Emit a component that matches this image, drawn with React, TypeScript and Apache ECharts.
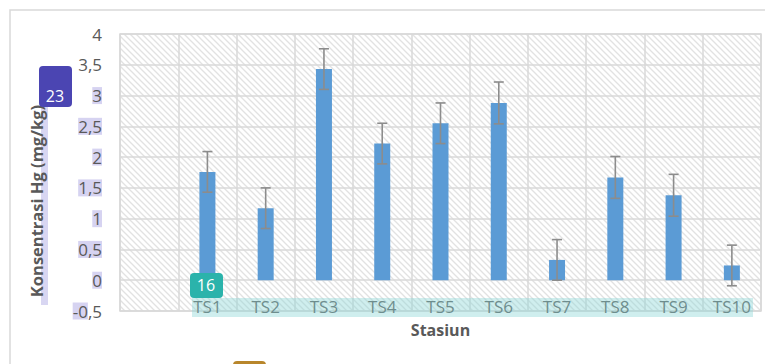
import React, { useEffect, useRef } from "react";
import * as echarts from "echarts";

const categories = ["", "TS1", "TS2", "TS3", "TS4", "TS5", "TS6", "TS7", "TS8", "TS9", "TS10"];
const hgValues: (number | string)[] = ["-", 1.76, 1.17, 3.43, 2.22, 2.55, 2.88, 0.33, 1.67, 1.38, 0.24];
const hgErrors: number[] = [0, 0.33, 0.33, 0.33, 0.33, 0.33, 0.34, 0.33, 0.34, 0.34, 0.33];
const yTickLabels = ["-0,5", "0", "0,5", "1", "1,5", "2", "2,5", "3", "3,5", "4"];
const yTitle = "Konsentrasi Hg (mg/kg)";
const xTitle = "Stasiun";

const FONT = "'Open Sans', 'Noto Sans', sans-serif";
const TXT = "#595959";

const hatchSvg =
  "<svg xmlns='http://www.w3.org/2000/svg' width='6' height='6'>" +
  "<rect width='6' height='6' fill='#ffffff'/>" +
  "<path d='M0,0 L6,6 M-1,5 L1,7 M5,-1 L7,1' stroke='#e2e2e2' stroke-width='1.3'/></svg>";
const hatchUrl = "data:image/svg+xml;charset=utf-8," + encodeURIComponent(hatchSvg);

export default function App() {
  const ref = useRef<HTMLDivElement>(null);
  useEffect(() => {
    if (!ref.current) return;
    const chart = echarts.init(ref.current, null, { renderer: "svg" });
    const errData = categories
      .map((c, i) => [i, hgValues[i], hgErrors[i]])
      .filter((d) => typeof d[1] === "number");
    chart.setOption({
      animation: false,
      backgroundColor: "#ffffff",
      grid: {
        left: 112,
        right: 12,
        top: 26,
        bottom: 53,
        show: true,
        borderColor: "#d9d9d9",
        borderWidth: 1.5,
        backgroundColor: {
          image: hatchUrl,
          repeat: "repeat",
          imageWidth: 6,
          imageHeight: 6,
        } as any,
      },
      xAxis: {
        type: "category",
        data: categories,
        boundaryGap: true,
        axisLine: { show: false },
        axisTick: { show: false },
        splitLine: { show: true, lineStyle: { color: "#d9d9d9", width: 1.5 } },
        axisLabel: { color: TXT, fontFamily: FONT, fontSize: 17, margin: -13, interval: 0 },
        name: xTitle,
        nameLocation: "middle",
        nameGap: 11,
        nameTextStyle: { color: TXT, fontFamily: FONT, fontSize: 16, fontWeight: "bold", verticalAlign: "top" },
      },
      yAxis: {
        type: "value",
        min: -0.5,
        max: 4,
        interval: 0.5,
        axisLine: { show: false },
        axisTick: { show: false },
        splitLine: { show: true, lineStyle: { color: "#d9d9d9", width: 1.5 } },
        axisLabel: {
          margin: 18,
          formatter: (v: number, idx: number) => {
            const s = yTickLabels[idx] ?? String(v).replace(".", ",");
            if (v >= 3.5) return `{n|${s}}`;
            if (v < 0) return `{h|${s.slice(0, 2)}}{n|${s.slice(2)}}`;
            return `{h|${s}}`;
          },
          rich: {
            n: { color: TXT, fontFamily: FONT, fontSize: 17, lineHeight: 21 },
            h: {
              color: TXT,
              fontFamily: FONT,
              fontSize: 17,
              lineHeight: 21,
              backgroundColor: "rgba(200,196,236,0.75)",
            },
          },
        },
        name: yTitle,
        nameLocation: "middle",
        nameRotate: 90,
        nameGap: 75,
        nameTextStyle: {
          color: TXT,
          fontFamily: FONT,
          fontSize: 16.5,
          fontWeight: "bold",
          padding: [0, 57, 0, 0],
        },
      },
      series: [
        {
          type: "bar",
          data: hgValues,
          barWidth: 16,
          itemStyle: { color: "#5b9bd5" },
          z: 2,
        },
        {
          type: "custom",
          data: errData,
          z: 3,
          renderItem: (params: any, api: any) => {
            const x = api.value(0);
            const v = api.value(1);
            const e = api.value(2);
            const top = api.coord([x, v + e]);
            const bot = api.coord([x, v - e]);
            const hw = 5;
            const st = { stroke: "#8c8c8c", lineWidth: 1.6 };
            return {
              type: "group",
              children: [
                { type: "line", shape: { x1: top[0], y1: top[1], x2: bot[0], y2: bot[1] }, style: st },
                { type: "line", shape: { x1: top[0] - hw, y1: top[1], x2: top[0] + hw, y2: top[1] }, style: st },
                { type: "line", shape: { x1: bot[0] - hw, y1: bot[1], x2: bot[0] + hw, y2: bot[1] }, style: st },
              ],
            };
          },
        },
      ],
      graphic: [
        {
          type: "rect",
          shape: { x: 2, y: 2, width: 900, height: 500 },
          style: { fill: "none", stroke: "#d9d9d9", lineWidth: 1.5 },
          silent: true,
          z: 0,
        },
        {
          type: "rect",
          shape: { x: 33, y: 99, width: 7, height: 198 },
          style: { fill: "rgba(200,196,236,0.7)" },
          z: -1,
        },
        {
          type: "rect",
          shape: { x: 31, y: 58, width: 33, height: 41, r: 4 },
          style: { fill: "#4b45b2" },
          z: 10,
        },
        {
          type: "text",
          x: 47,
          y: 88,
          style: { text: "23", fill: "#ffffff", font: `16px ${FONT}`, align: "center", verticalAlign: "middle" },
          z: 11,
        },
        {
          type: "rect",
          shape: { x: 184, y: 290, width: 561, height: 19 },
          style: { fill: "rgba(140,215,215,0.42)" },
          z: 10,
        },
        {
          type: "rect",
          shape: { x: 182, y: 265, width: 33, height: 25, r: 4 },
          style: { fill: "#2bb3ab" },
          z: 11,
        },
        {
          type: "text",
          x: 198,
          y: 277,
          style: { text: "16", fill: "#ffffff", font: `16px ${FONT}`, align: "center", verticalAlign: "middle" },
          z: 12,
        },
        {
          type: "rect",
          shape: { x: 225, y: 353, width: 33, height: 20, r: 4 },
          style: { fill: "#b8862b" },
          z: 11,
        },
      ],
    });
    return () => chart.dispose();
  }, []);
  return <div ref={ref} style={{ width: 765, height: 356 }} />;
}
